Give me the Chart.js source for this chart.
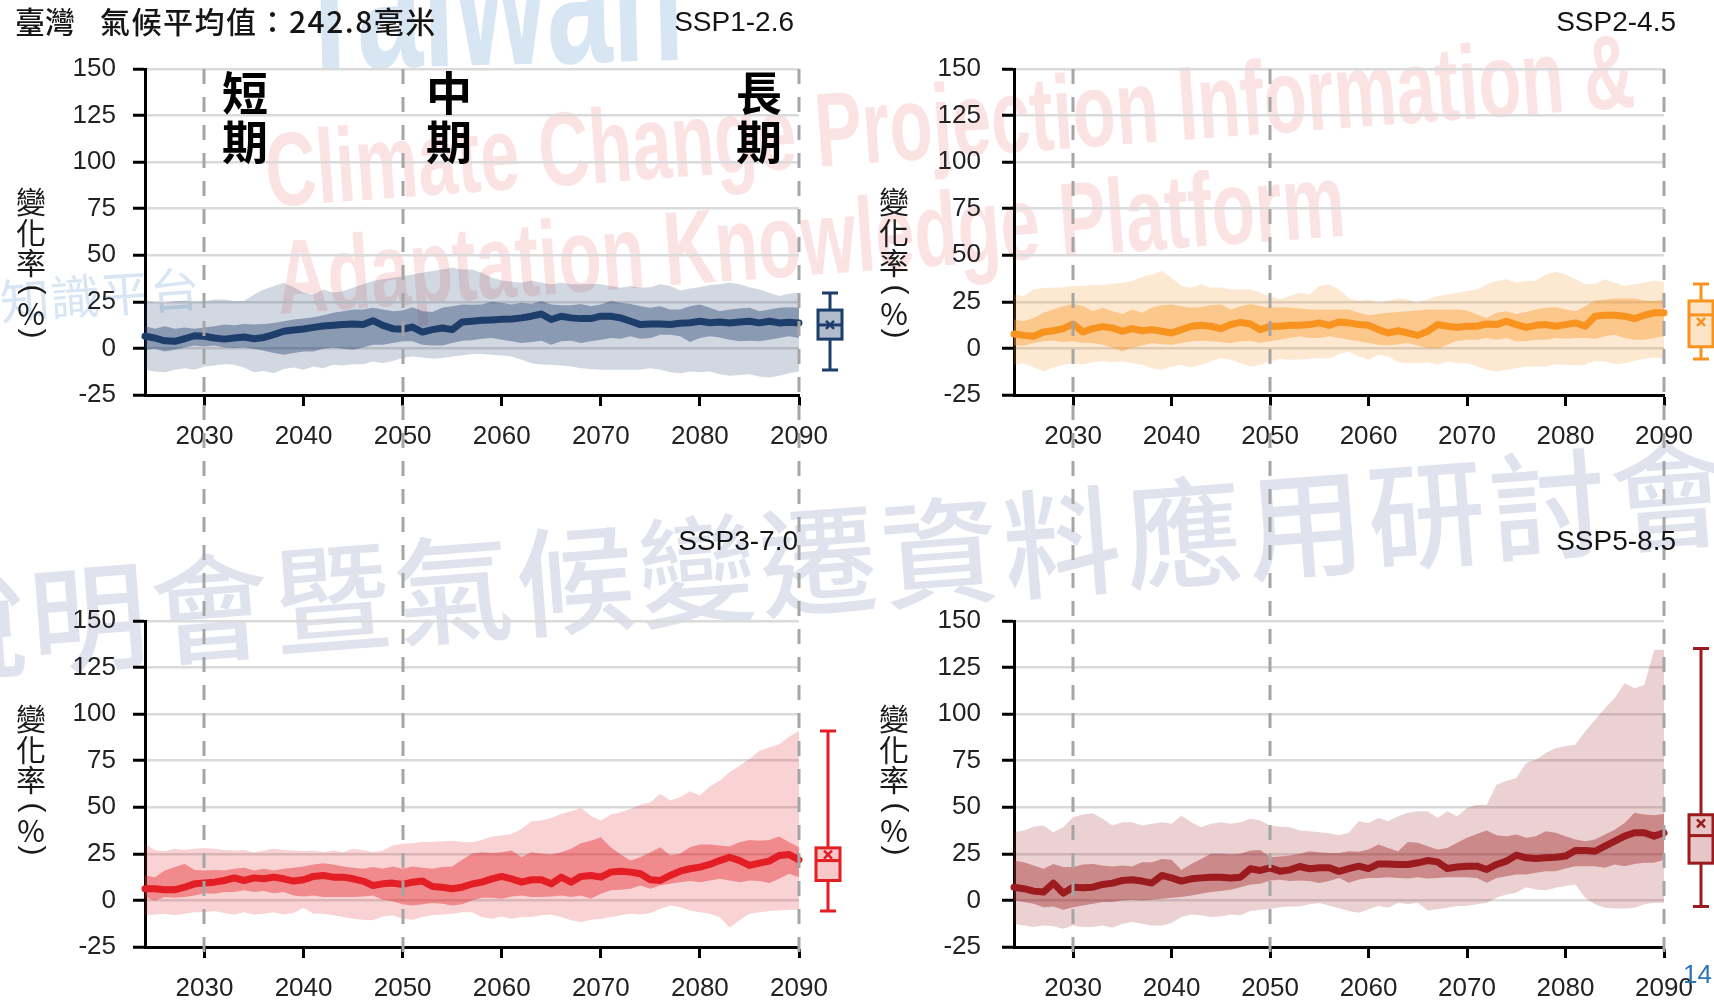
<!DOCTYPE html>
<html>
<head>
<meta charset="utf-8">
<title>臺灣 氣候平均值 變化率</title>
<script src="https://cdn.jsdelivr.net/npm/chart.js@4.4.1/dist/chart.umd.min.js"></script>
<style>
  html, body { margin: 0; padding: 0; background: #fff; }
  #wrap { position: relative; width: 1714px; height: 1000px; overflow: hidden; background: #fff; }
  canvas { position: absolute; z-index: 1; }
  .txt { position: absolute; white-space: nowrap; line-height: 1; color: #151515; z-index: 2; }
  .cjk { font-family: 'Noto Sans CJK TC', 'Noto Sans CJK SC', sans-serif; }
  .lat { font-family: 'Liberation Sans', Arial, sans-serif; }
  .wm { position: absolute; white-space: nowrap; line-height: 1; z-index: 0; }
  .period { position: absolute; z-index: 2; font-family: 'Noto Sans CJK TC', sans-serif; font-weight: 700;
            font-size: 46px; line-height: 49px; color: #000; }
  .ych { position: absolute; width: 40px; text-align: center; line-height: 1; font-size: 30px; color: #1a1a1a; z-index: 2;
         font-family: 'Noto Sans CJK TC', sans-serif; }
  .ypar { position: absolute; width: 40px; text-align: center; line-height: 1; font-size: 30px; color: #1a1a1a; z-index: 2;
          font-family: 'Liberation Sans', Arial, sans-serif; transform-origin: 50% 0.587em; transform: rotate(90deg); }
</style>
</head>
<body>
<div id="wrap">
  <!-- watermarks -->
  <div class="wm lat" id="wmTaiwan" style="left:295px;top:-91px;font-size:190px;font-weight:700;color:rgba(60,130,200,0.2);">Taiwan</div>
  <div class="wm cjk" id="wmZh" style="left:0px;top:275px;font-size:48px;color:rgba(60,130,200,0.2);">知識平台</div>
  <div class="wm lat" id="wmClimate" style="left:268px;top:118px;font-size:105px;font-weight:700;color:rgba(230,80,80,0.16);">Climate Change Projection Information &amp;</div>
  <div class="wm lat" id="wmAdapt" style="left:279px;top:225px;font-size:105px;font-weight:700;color:rgba(230,80,80,0.16);">Adaptation Knowledge Platform</div>
  <div class="wm cjk" id="wmSeminar" style="left:-92px;top:566px;font-size:118px;font-weight:500;letter-spacing:4px;color:rgba(100,110,170,0.2);">說明會暨氣候變遷資料應用研討會</div>

  <canvas id="p1" width="857" height="500" style="left:0;top:0"></canvas>
  <canvas id="p2" width="857" height="500" style="left:857px;top:0"></canvas>
  <canvas id="p3" width="857" height="500" style="left:0;top:500px"></canvas>
  <canvas id="p4" width="857" height="500" style="left:857px;top:500px"></canvas>

  <div class="txt cjk" style="left:15px;top:5px;font-size:30px;font-weight:500;">臺灣</div>
  <div class="txt cjk" style="left:100px;top:5px;font-size:30px;font-weight:500;letter-spacing:1.5px;">氣候平均值：242.8毫米</div>

  <div class="txt lat" style="right:920px;top:8px;font-size:28px;">SSP1-2.6</div>
  <div class="txt lat" style="right:38px;top:8px;font-size:28px;">SSP2-4.5</div>
  <div class="txt lat" style="right:916px;top:527px;font-size:28px;">SSP3-7.0</div>
  <div class="txt lat" style="right:38px;top:527px;font-size:28px;">SSP5-8.5</div>

  <div class="period" style="left:222px;top:66px;">短<br>期</div>
  <div class="period" style="left:426px;top:66px;">中<br>期</div>
  <div class="period" style="left:736px;top:66px;">長<br>期</div>

  <div id="ytitles"></div>

  <div class="txt lat" style="left:1683px;top:961px;font-size:26px;color:#2e74b5;">14</div>
</div>

<script>
// years 2024 … 2090
const years = Array.from({ length: 67 }, (_, i) => 2024 + i);
const xTicks = [2030, 2040, 2050, 2060, 2070, 2080, 2090];
const yTicks = [-25, 0, 25, 50, 75, 100, 125, 150];
const periodYears = [2030, 2050, 2090];

// SSP1-2.6
const ssp126Median = [6.5, 5.6, 4.1, 3.8, 5.2, 6.8, 6.5, 5.6, 5.0, 5.6,
  6.1, 5.2, 5.9, 7.4, 9.2, 9.9, 10.4, 11.3, 12.0, 12.4,
  12.9, 13.1, 12.8, 14.9, 12.4, 10.6, 10.3, 11.5, 8.8, 10.1,
  11.0, 10.1, 14.2, 14.6, 15.1, 15.3, 15.6, 15.8, 16.4, 17.3,
  18.5, 15.5, 17.3, 16.4, 16.0, 16.0, 17.3, 17.3, 16.4, 14.6,
  12.8, 13.1, 13.1, 12.8, 13.5, 13.8, 14.6, 13.8, 14.2, 13.7,
  14.2, 14.6, 13.7, 14.6, 13.7, 14.0, 13.7];
const ssp126InnerHigh = [11.9, 10.6, 11.9, 10.6, 11.3, 10.6, 11.3, 11.9, 12.8, 12.4,
  13.1, 12.8, 13.1, 13.7, 14.6, 15.5, 16.0, 16.7, 17.8, 19.1,
  20.0, 20.9, 20.9, 21.8, 20.9, 20.0, 20.3, 22.1, 20.0, 19.6,
  21.8, 22.7, 23.6, 23.4, 23.6, 25.0, 24.5, 23.6, 24.5, 23.9,
  25.4, 23.6, 23.2, 23.2, 23.9, 22.7, 23.6, 25.4, 24.5, 23.9,
  22.7, 21.8, 22.7, 20.9, 20.9, 22.7, 23.6, 21.8, 20.0, 20.9,
  21.4, 21.8, 20.0, 20.9, 21.8, 22.1, 21.8];
const ssp126InnerLow = [-0.7, -0.2, -1.6, -0.7, 0.5, 1.6, 1.1, 1.6, 0.5, 0.2,
  0.5, -0.2, -1.3, -2.5, -3.4, -2.5, -1.6, -1.6, -0.2, 0.5,
  -0.2, -0.7, 0.5, 2.0, 2.0, 2.9, 3.8, 3.8, 2.0, 1.6,
  1.6, 2.9, 4.1, 4.4, 5.2, 5.6, 4.7, 3.8, 2.9, 3.4,
  4.1, 2.0, 3.8, 4.1, 2.9, 3.8, 4.7, 5.6, 5.2, 6.5,
  5.2, 5.6, 7.4, 7.4, 6.5, 3.4, 5.6, 6.5, 5.9, 4.7,
  3.8, 4.1, 3.8, 4.7, 5.6, 6.5, 5.6];
const ssp126OuterHigh = [25.4, 24.8, 24.5, 25.4, 25.7, 25.0, 25.4, 26.3, 26.3, 25.4,
  25.4, 29.0, 31.7, 33.5, 35.3, 32.9, 29.9, 29.0, 31.7, 29.9,
  30.8, 32.6, 34.4, 36.2, 37.1, 37.9, 38.8, 39.7, 40.6, 41.5,
  42.4, 43.3, 42.4, 42.4, 40.6, 37.9, 36.5, 35.8, 35.3, 36.5,
  35.3, 34.4, 35.3, 34.4, 34.4, 34.7, 34.4, 33.5, 32.6, 33.5,
  32.6, 32.9, 34.4, 33.5, 31.1, 32.2, 32.9, 34.0, 34.4, 35.3,
  34.4, 32.9, 31.7, 29.9, 28.1, 29.3, 29.9];
const ssp126OuterLow = [-11.5, -12.4, -12.8, -11.5, -10.6, -11.5, -9.7, -9.2, -8.5, -8.8,
  -10.3, -12.8, -12.1, -13.3, -11.0, -10.3, -11.5, -9.7, -10.6, -8.8,
  -9.2, -8.5, -8.5, -7.0, -7.9, -6.7, -5.2, -4.3, -4.9, -5.6,
  -5.2, -4.3, -3.8, -3.0, -3.0, -3.4, -3.8, -4.3, -6.1, -7.9,
  -8.8, -8.8, -9.2, -9.7, -10.6, -11.0, -11.5, -11.5, -11.5, -11.5,
  -11.5, -10.6, -11.5, -12.8, -13.3, -12.4, -12.8, -12.4, -13.8, -14.6,
  -14.2, -13.8, -15.1, -15.6, -14.6, -13.3, -12.4];
const ssp126Box = [-11.6, 5.0, 12.6, 20.6, 29.7];   // min, q1, median, q3, max
const ssp126Mean = 12.6;

// SSP2-4.5
const ssp245Median = [7.7, 7.0, 6.5, 8.8, 9.5, 10.6, 13.1, 8.8, 10.6, 11.7,
  11.0, 9.2, 10.6, 9.5, 10.1, 9.2, 8.3, 10.1, 11.9, 12.4,
  11.9, 10.6, 12.8, 14.0, 13.1, 10.1, 11.9, 11.9, 12.4, 12.4,
  12.8, 13.7, 12.4, 14.2, 13.7, 12.8, 12.4, 10.1, 8.3, 9.5,
  8.3, 7.0, 9.2, 12.8, 11.9, 11.3, 11.9, 11.9, 13.1, 12.8,
  14.6, 12.8, 11.3, 12.4, 12.8, 11.9, 12.8, 13.7, 11.9, 17.3,
  17.8, 17.8, 17.3, 16.0, 17.8, 19.1, 19.1];
const ssp245InnerHigh = [15.5, 14.6, 16.4, 19.1, 20.9, 22.7, 23.9, 22.7, 20.0, 21.8,
  20.0, 18.5, 20.9, 19.1, 21.8, 23.2, 23.6, 22.7, 21.8, 22.1,
  23.2, 23.6, 20.9, 22.7, 23.9, 22.7, 21.8, 22.1, 21.8, 21.4,
  20.9, 20.9, 20.9, 20.9, 20.9, 19.1, 17.8, 18.5, 19.1, 19.6,
  20.0, 20.3, 20.9, 20.9, 20.9, 20.9, 20.3, 18.2, 16.4, 19.1,
  20.0, 18.5, 19.6, 20.9, 21.8, 22.1, 20.9, 20.0, 22.7, 25.7,
  26.3, 26.8, 26.8, 26.8, 25.7, 25.4, 26.3];
const ssp245InnerLow = [1.6, 1.6, 2.9, 3.8, 4.1, 3.4, 3.8, 2.9, 2.9, 2.0,
  0.5, -1.6, 0.5, 1.6, 2.9, 2.3, 2.0, 2.9, 3.8, 4.1,
  3.8, 3.4, 2.9, 3.8, 4.1, 2.9, 3.8, 4.7, 5.6, 6.5,
  5.6, 5.6, 6.5, 5.6, 4.7, 3.8, 2.9, 2.0, 1.6, 2.3,
  2.9, 1.6, 0.2, -0.2, 2.0, 4.1, 4.7, 4.7, 5.6, 4.7,
  5.6, 3.8, 3.8, 4.7, 4.7, 5.6, 5.2, 5.6, 5.6, 5.2,
  6.5, 7.4, 5.6, 4.7, 4.7, 5.6, 6.5];
const ssp245OuterHigh = [29.0, 28.1, 31.7, 32.6, 32.6, 32.9, 33.5, 33.5, 34.0, 34.0,
  34.7, 35.3, 36.2, 38.3, 39.7, 41.5, 37.9, 33.5, 32.6, 34.4,
  32.6, 32.9, 31.7, 31.7, 31.7, 29.9, 28.1, 26.3, 28.1, 29.9,
  29.0, 33.5, 34.4, 31.7, 27.0, 25.4, 26.3, 24.5, 25.4, 27.0,
  26.3, 24.5, 26.3, 28.1, 29.0, 29.9, 30.8, 31.7, 34.4, 36.2,
  37.1, 35.3, 36.2, 36.5, 39.7, 41.2, 39.7, 37.1, 34.4, 34.7,
  37.1, 35.3, 33.5, 34.4, 35.3, 36.5, 35.8];
const ssp245OuterLow = [-8.8, -7.9, -10.3, -12.4, -10.3, -8.8, -7.9, -8.5, -7.4, -6.7,
  -7.4, -7.0, -7.9, -8.8, -10.6, -11.5, -9.7, -8.8, -10.3, -8.8,
  -7.0, -5.2, -6.1, -7.9, -9.7, -8.8, -7.0, -5.6, -6.1, -6.1,
  -5.6, -5.2, -5.6, -3.0, -1.6, -4.3, -6.1, -3.4, -4.3, -7.4,
  -7.9, -7.9, -7.4, -8.8, -7.0, -7.9, -7.9, -9.7, -11.5, -12.4,
  -11.5, -10.6, -9.7, -9.7, -9.7, -8.5, -8.8, -9.2, -8.8, -6.7,
  -7.0, -8.5, -7.9, -6.7, -5.6, -4.9, -5.6];
const ssp245Box = [-5.7, 0.9, 18.0, 25.5, 34.6];
const ssp245Mean = 14.3;

// SSP3-7.0
const ssp370Median = [6.3, 6.3, 5.7, 5.7, 7.1, 8.9, 9.3, 9.8, 10.7, 12.1,
  10.7, 12.1, 11.6, 12.5, 11.6, 10.4, 11.1, 12.9, 13.4, 12.5,
  12.5, 11.6, 10.4, 8.0, 8.9, 9.3, 8.6, 9.8, 10.4, 7.5,
  7.1, 6.3, 7.1, 8.8, 9.8, 11.6, 12.9, 11.6, 9.8, 11.1,
  11.1, 8.9, 12.5, 9.8, 12.9, 13.4, 12.5, 15.2, 15.7, 15.2,
  14.3, 11.1, 10.7, 13.4, 15.7, 17.0, 17.9, 19.3, 21.4, 23.2,
  21.4, 18.8, 20.0, 21.1, 24.1, 24.6, 21.8];
const ssp370InnerHigh = [13.4, 12.5, 16.1, 17.9, 19.6, 16.4, 16.1, 16.4, 16.1, 17.0,
  17.5, 16.1, 17.0, 16.1, 17.0, 17.5, 18.2, 19.3, 20.0, 19.3,
  18.2, 17.5, 17.0, 17.9, 17.0, 18.2, 17.0, 18.2, 17.5, 17.0,
  17.9, 18.2, 21.8, 25.0, 25.9, 25.4, 25.9, 26.8, 23.2, 25.9,
  25.0, 24.6, 25.9, 27.7, 30.7, 32.1, 33.9, 28.6, 24.6, 21.4,
  23.2, 25.9, 28.6, 24.1, 25.0, 28.6, 30.0, 30.0, 29.5, 28.9,
  31.2, 32.5, 32.1, 32.5, 34.3, 31.2, 28.6];
const ssp370InnerLow = [1.8, 0.0, 1.8, 1.4, 1.8, 2.7, 3.9, 3.6, 4.5, 4.5,
  5.4, 4.5, 5.0, 3.9, 4.5, 2.7, 2.1, 2.7, 1.8, 1.8,
  1.8, 1.8, 2.1, 2.7, 0.4, -0.4, -2.1, -2.7, -2.1, -1.4,
  -1.8, -2.7, -2.1, 0.0, 1.4, 1.4, 0.9, 2.1, 2.7, 1.8,
  1.8, 2.1, 2.7, 1.8, 2.7, 0.9, 3.6, 5.4, 5.7, 6.3,
  8.0, 6.3, 8.0, 8.9, 9.8, 10.4, 9.8, 10.7, 11.6, 10.7,
  9.8, 10.7, 10.4, 9.3, 11.6, 14.3, 12.5];
const ssp370OuterHigh = [30.4, 27.1, 26.4, 27.7, 27.1, 27.7, 28.2, 27.7, 27.1, 26.8,
  27.1, 25.9, 26.8, 27.7, 27.1, 26.8, 26.4, 26.8, 25.9, 26.8,
  25.9, 27.7, 27.1, 25.9, 26.8, 29.5, 30.4, 30.7, 31.3, 31.3,
  31.8, 32.1, 31.3, 31.2, 32.5, 34.3, 34.8, 35.7, 38.4, 42.5,
  42.9, 44.3, 46.4, 47.9, 49.6, 45.5, 42.9, 46.1, 47.3, 49.1,
  51.4, 52.7, 57.1, 53.6, 55.4, 58.6, 56.3, 61.1, 64.3, 68.8,
  72.3, 75.9, 80.4, 82.1, 83.9, 87.9, 91.1];
const ssp370OuterLow = [-8.0, -7.5, -7.1, -8.0, -7.1, -6.3, -6.3, -5.7, -6.8, -7.5,
  -6.3, -7.5, -7.1, -6.3, -7.5, -6.8, -3.9, -7.1, -7.1, -8.0,
  -8.9, -9.8, -10.4, -10.7, -8.6, -8.0, -9.8, -10.4, -8.9, -8.0,
  -7.5, -7.1, -6.3, -6.3, -8.9, -9.8, -8.6, -9.8, -8.9, -8.9,
  -8.0, -7.5, -8.9, -10.7, -11.6, -10.4, -9.8, -8.9, -8.0, -7.1,
  -7.5, -6.8, -4.5, -2.7, -3.6, -5.4, -6.3, -7.1, -8.9, -14.6,
  -10.7, -7.1, -6.3, -5.7, -5.4, -5.0, -5.0];
const ssp370Box = [-5.7, 10.7, 21.4, 28.2, 91.0];
const ssp370Mean = 24.6;

// SSP5-8.5
const ssp585Median = [7.1, 6.3, 5.0, 4.5, 9.3, 3.9, 7.1, 6.8, 7.1, 8.6,
  9.3, 10.7, 11.1, 10.4, 9.3, 13.4, 12.1, 10.4, 11.6, 12.1,
  12.5, 12.5, 12.1, 12.5, 17.0, 16.1, 17.5, 15.7, 16.4, 18.2,
  17.0, 17.5, 17.5, 15.6, 17.1, 18.4, 17.1, 19.6, 19.6, 19.3,
  19.3, 20.2, 21.4, 20.7, 17.1, 17.9, 18.4, 18.4, 16.6, 19.3,
  21.1, 24.3, 22.9, 22.5, 22.9, 23.2, 23.8, 26.8, 26.8, 26.4,
  29.1, 31.8, 34.5, 36.3, 36.3, 34.5, 36.3];
const ssp585InnerHigh = [21.4, 20.5, 18.8, 17.0, 19.6, 17.9, 17.9, 19.3, 19.6, 18.8,
  18.2, 18.8, 18.2, 20.5, 20.5, 22.3, 21.8, 16.4, 19.6, 22.3,
  25.0, 25.0, 24.6, 25.0, 26.8, 27.1, 23.2, 23.6, 24.1, 25.0,
  26.4, 25.9, 25.4, 25.5, 26.4, 26.1, 27.3, 30.0, 28.2, 26.4,
  31.4, 30.9, 29.1, 27.3, 28.2, 30.9, 33.6, 35.7, 37.5, 35.0,
  34.5, 35.4, 33.6, 34.5, 37.1, 36.3, 34.5, 32.7, 31.8, 32.7,
  35.4, 38.0, 41.6, 47.0, 46.1, 45.7, 46.4];
const ssp585InnerLow = [0.0, -0.9, -1.8, -3.6, -3.2, -5.0, -3.6, -2.7, -1.8, -0.9,
  -0.9, 0.0, 0.4, 0.0, 0.4, 0.9, 1.4, 1.8, 2.7, 3.6,
  4.5, 5.0, 5.7, 7.1, 8.6, 8.9, 10.7, 11.1, 10.4, 10.7,
  10.4, 9.3, 10.4, 12.0, 9.5, 11.3, 12.1, 12.1, 12.5, 12.1,
  11.8, 12.5, 11.8, 12.1, 12.5, 12.5, 12.5, 12.1, 9.5, 12.1,
  13.0, 13.9, 13.9, 14.8, 15.7, 15.7, 17.1, 18.4, 18.4, 18.4,
  17.5, 19.3, 18.4, 19.6, 20.2, 20.2, 21.9];
const ssp585OuterHigh = [36.6, 37.5, 39.6, 40.2, 36.6, 39.3, 44.6, 46.1, 46.8, 43.8,
  40.2, 42.0, 42.0, 40.2, 41.1, 42.0, 41.1, 45.5, 42.0, 39.3,
  41.1, 42.0, 41.1, 42.0, 43.8, 42.9, 40.2, 39.6, 39.3, 37.5,
  37.1, 36.6, 36.1, 35.0, 36.3, 42.5, 41.6, 44.3, 42.5, 45.2,
  47.0, 47.9, 47.9, 44.3, 47.9, 45.2, 49.6, 51.4, 51.4, 62.1,
  64.3, 65.7, 73.8, 75.5, 79.1, 81.8, 82.7, 83.6, 90.7, 97.0,
  103.2, 108.6, 116.6, 113.9, 115.7, 134.5, 134.5];
const ssp585OuterLow = [-12.5, -13.4, -14.3, -13.4, -13.9, -15.2, -13.4, -14.3, -14.3, -13.4,
  -14.6, -12.5, -11.6, -12.5, -13.4, -13.4, -12.1, -8.9, -7.5, -8.0,
  -8.9, -8.6, -7.5, -8.0, -5.7, -5.0, -4.5, -3.6, -3.2, -3.2,
  -2.1, -1.4, -2.7, -4.2, -5.7, -6.6, -4.8, -3.0, -3.9, -1.3,
  -2.1, -1.3, -5.4, -4.8, -3.9, -3.0, -3.0, -2.1, -1.3, 1.4,
  3.2, 4.1, 7.1, 5.9, 5.4, 6.8, 7.7, 8.6, 1.4, -2.1,
  -3.9, -4.3, -4.3, -3.9, -2.1, -1.3, -1.3];
const ssp585Box = [-3.2, 20.0, 34.8, 46.0, 135.3];
const ssp585Mean = 41.4;

Chart.defaults.font.family = "'Liberation Sans', Arial, sans-serif";
Chart.defaults.color = '#222';

// dashed lines for 短期 / 中期 / 長期
const periodLines = {
  id: 'periodLines',
  afterDatasetsDraw(chart, args, opts) {
    const { ctx, scales: { x } } = chart;
    ctx.save();
    ctx.strokeStyle = '#a5a5a5';
    ctx.lineWidth = 3;
    ctx.setLineDash([15, 13]);
    ctx.lineDashOffset = opts.dashOffset || 0;
    periodYears.forEach(v => {
      const px = Math.round(x.getPixelForValue(v));
      ctx.beginPath();
      ctx.moveTo(px, opts.top);
      ctx.lineTo(px, opts.bottom);
      ctx.stroke();
    });
    ctx.restore();
  }
};

// box plot of the end-of-century spread
const boxPlot = {
  id: 'boxPlot',
  afterDraw(chart, args, opts) {
    const { ctx, chartArea, scales: { y } } = chart;
    const [lo, q1, med, q3, hi] = opts.stats;
    const cx = Math.round(chartArea.right + opts.offset);
    const py = v => y.getPixelForValue(v);
    const hw = 12, cap = 8;
    ctx.save();
    ctx.strokeStyle = opts.color;
    ctx.lineWidth = 3;
    ctx.fillStyle = opts.fill;
    ctx.beginPath();
    ctx.moveTo(cx, py(hi)); ctx.lineTo(cx, py(q3));
    ctx.moveTo(cx, py(q1)); ctx.lineTo(cx, py(lo));
    ctx.moveTo(cx - cap, py(hi)); ctx.lineTo(cx + cap, py(hi));
    ctx.moveTo(cx - cap, py(lo)); ctx.lineTo(cx + cap, py(lo));
    ctx.stroke();
    ctx.fillRect(cx - hw, py(q3), hw * 2, py(q1) - py(q3));
    ctx.strokeRect(cx - hw, py(q3), hw * 2, py(q1) - py(q3));
    ctx.beginPath();
    ctx.moveTo(cx - hw, py(med)); ctx.lineTo(cx + hw, py(med));
    ctx.stroke();
    const m = py(opts.mean), s = 4;
    ctx.lineWidth = 2.5;
    ctx.beginPath();
    ctx.moveTo(cx - s, m - s); ctx.lineTo(cx + s, m + s);
    ctx.moveTo(cx - s, m + s); ctx.lineTo(cx + s, m - s);
    ctx.stroke();
    ctx.restore();
  }
};

function rgba(rgb, a) {
  return 'rgba(' + rgb.join(',') + ',' + a + ')';
}

function makePanel(cfg) {
  const ctx = document.getElementById(cfg.id);
  if (!ctx) return;
  const pts = arr => years.map((yr, i) => ({ x: yr, y: arr[i] }));
  const band = (arr, fill, order) => ({
    data: pts(arr), borderWidth: 0, pointRadius: 0, tension: 0,
    fill: fill ? '-1' : false, backgroundColor: fill || 'transparent', order: order
  });

  new Chart(ctx, {
    type: 'line',
    data: {
      datasets: [
        band(cfg.outerLow, null, 4),
        band(cfg.outerHigh, rgba(cfg.rgb, 0.2), 3),
        band(cfg.innerLow, null, 2),
        band(cfg.innerHigh, rgba(cfg.rgb, 0.4), 1),
        {
          data: pts(cfg.median), borderColor: rgba(cfg.rgb, 1), borderWidth: 7,
          pointRadius: 0, fill: false, tension: 0, order: 0, clip: false,
          borderCapStyle: 'round', borderJoinStyle: 'round'
        }
      ]
    },
    options: {
      responsive: false,
      animation: false,
      events: [],
      layout: { padding: { top: cfg.padTop, right: cfg.padRight, left: 0, bottom: 0 } },
      plugins: {
        legend: { display: false },
        tooltip: { enabled: false },
        periodLines: { top: cfg.dashTop, bottom: cfg.dashBottom, dashOffset: cfg.dashOffset },
        boxPlot: { stats: cfg.box, mean: cfg.mean, offset: cfg.boxOffset,
                   color: rgba(cfg.rgb, 1), fill: rgba(cfg.rgb, cfg.boxAlpha) }
      },
      scales: {
        x: {
          type: 'linear', min: 2024, max: 2090,
          afterBuildTicks: s => { s.ticks = xTicks.map(v => ({ value: v })); },
          afterFit: s => { s.height = cfg.xHeight; },
          border: { color: '#000', width: 3 },
          grid: { drawOnChartArea: false, tickLength: 11, tickWidth: 3, tickColor: '#000' },
          ticks: { padding: 15, maxRotation: 0, autoSkip: false, font: { size: 26 },
                   callback: v => String(v) }
        },
        y: {
          min: -25, max: 150,
          afterBuildTicks: s => { s.ticks = yTicks.map(v => ({ value: v })); },
          afterFit: s => { s.width = cfg.yWidth; },
          border: { color: '#000', width: 3 },
          grid: { color: '#dadada', lineWidth: 2.5, tickLength: 12, tickWidth: 3, tickColor: '#000' },
          ticks: { padding: cfg.yPad, font: { size: 26 }, callback: v => String(v) }
        }
      }
    },
    plugins: [periodLines, boxPlot]
  });
}

const topGeom = { padTop: 69, xHeight: 105, dashTop: 69, dashBottom: 500, dashOffset: 0 };
const botGeom = { padTop: 121, xHeight: 53, dashTop: 0, dashBottom: 462, dashOffset: 11 };
const leftGeom = { yWidth: 145, padRight: 58, yPad: 17, boxOffset: 31 };
const rightGeom = { yWidth: 157, padRight: 50, yPad: 21, boxOffset: 37 };

makePanel(Object.assign({ id: 'p1', rgb: [29, 61, 107], boxAlpha: 0.35,
  median: ssp126Median, innerHigh: ssp126InnerHigh, innerLow: ssp126InnerLow,
  outerHigh: ssp126OuterHigh, outerLow: ssp126OuterLow, box: ssp126Box, mean: ssp126Mean },
  topGeom, leftGeom));
makePanel(Object.assign({ id: 'p2', rgb: [247, 147, 30], boxAlpha: 0.25,
  median: ssp245Median, innerHigh: ssp245InnerHigh, innerLow: ssp245InnerLow,
  outerHigh: ssp245OuterHigh, outerLow: ssp245OuterLow, box: ssp245Box, mean: ssp245Mean },
  topGeom, rightGeom));
makePanel(Object.assign({ id: 'p3', rgb: [227, 30, 36], boxAlpha: 0.25,
  median: ssp370Median, innerHigh: ssp370InnerHigh, innerLow: ssp370InnerLow,
  outerHigh: ssp370OuterHigh, outerLow: ssp370OuterLow, box: ssp370Box, mean: ssp370Mean },
  botGeom, leftGeom, { boxOffset: 29 }));
makePanel(Object.assign({ id: 'p4', rgb: [155, 27, 31], boxAlpha: 0.25,
  median: ssp585Median, innerHigh: ssp585InnerHigh, innerLow: ssp585InnerLow,
  outerHigh: ssp585OuterHigh, outerLow: ssp585OuterLow, box: ssp585Box, mean: ssp585Mean },
  botGeom, rightGeom));

// vertical y-axis titles 變化率(%) — the brackets are turned on their side
const yTitleChars = ['變', '化', '率', '(', '%', ')'];
const yTitleTop = [202, 233, 263, 290, 314, 334];
const yTitleBottom = [719, 750, 780, 808, 831, 851];
const holder = document.getElementById('ytitles');
[[31, yTitleTop], [894, yTitleTop], [31, yTitleBottom], [894, yTitleBottom]].forEach(([cx, ys]) => {
  yTitleChars.forEach((ch, i) => {
    const d = document.createElement('div');
    const turned = ch === '(' || ch === ')';
    d.className = turned ? 'ypar' : 'ych';
    d.textContent = ch;
    d.style.left = (cx - 20) + 'px';
    d.style.top = (ys[i] - (turned ? 17.6 : 16.7)) + 'px';
    holder.appendChild(d);
  });
});

// watermark text: squeeze to the measured width and tilt
function fitText(id, width, angle, originY) {
  const el = document.getElementById(id);
  const k = width / el.getBoundingClientRect().width;
  el.style.transformOrigin = '0 ' + originY + 'px';
  el.style.transform = 'rotate(' + angle + 'deg) scaleX(' + k + ')';
}
fitText('wmTaiwan', 390, -1.5, 161);
fitText('wmClimate', 1372, -4.2, 89);
fitText('wmAdapt', 1071, -4.2, 89);
fitText('wmZh', 200, -4, 27);
(function () {
  const el = document.getElementById('wmSeminar');
  el.style.transformOrigin = '0 66px';
  el.style.transform = 'rotate(-4.4deg)';
})();
</script>
</body>
</html>
